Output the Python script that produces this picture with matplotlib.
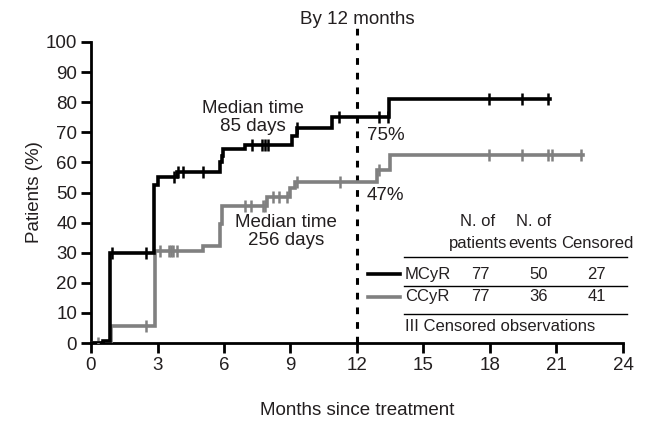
import numpy as np
import matplotlib
matplotlib.use('Agg')
import matplotlib.pyplot as plt

plt.rcParams['font.family'] = ['Liberation Sans', 'DejaVu Sans']

# step curves (months, % of patients)
mcyr_t = [0, 0.55, 0.86, 2.82, 3.0, 3.9, 5.83, 5.9, 5.96, 6.96, 9.07, 9.3, 10.87, 13.43, 20.7]
mcyr_p = [0, 0.8, 30, 52.5, 55.2, 56.8, 60, 62.2, 64.4, 65.7, 68.7, 71.4, 75.2, 81, 81]
ccyr_t = [0, 0.9, 2.9, 5.07, 5.83, 5.9, 7.94, 9.0, 9.2, 12.88, 13.48, 22.2]
ccyr_p = [0, 5.5, 30.5, 32.2, 39.5, 45.5, 48.5, 51.5, 53.5, 57.5, 62.5, 62.5]

# censored observations (months)
mcyr_cens = [0.93, 2.49, 3.75, 3.92, 4.15, 5.06, 7.26, 7.7, 7.85, 8.0, 9.3, 11.2, 12.97, 13.38, 17.95, 19.46, 20.6]
ccyr_cens = [0.3, 2.49, 3.1, 3.5, 3.6, 3.7, 3.9, 6.96, 7.2, 7.75, 7.86, 8.2, 8.5, 8.85, 9.3, 11.25, 12.97, 17.95, 19.46, 20.6, 20.8, 22.1]

groups = ['MCyR', 'CCyR']
n_patients = [77, 77]
n_events = [50, 36]
n_censored = [27, 41]


def step_at(t, times, vals):
    idx = np.searchsorted(times, t, side='right') - 1
    return np.array(vals)[idx]


txt = '#231f20'
fs = 13.5
fig = plt.figure(figsize=(6.46, 4.24), dpi=100)
ax = fig.add_axes([91/646, 1-343/424, (623-91)/646, (343-42)/424])

ax.plot(mcyr_t, mcyr_p, drawstyle='steps-post', color='black', lw=2.6, solid_joinstyle='miter', zorder=4)
ax.plot(ccyr_t, ccyr_p, drawstyle='steps-post', color='#808080', lw=2.6, solid_joinstyle='miter', zorder=3)
ax.plot(mcyr_cens, step_at(mcyr_cens, mcyr_t, mcyr_p), ls='none', marker='|', ms=8, mew=1.8, color='black', zorder=4)
ax.plot(ccyr_cens, step_at(ccyr_cens, ccyr_t, ccyr_p), ls='none', marker='|', ms=8, mew=1.8, color='#808080', zorder=3)

ax.axvline(12, ymin=0, ymax=1.06, color='black', lw=2.2, ls=(0, (2.2, 2.6)), clip_on=False)
ax.text(12, 107.5, 'By 12 months', ha='center', va='center', fontsize=fs, color=txt)

ax.set_xlim(0, 24)
ax.set_ylim(0, 100)
ax.set_xticks(np.arange(0, 25, 3))
ax.set_yticks(np.arange(0, 101, 10))
for s in ['top', 'right']:
    ax.spines[s].set_visible(False)
for s in ['left', 'bottom']:
    ax.spines[s].set_linewidth(2)
ax.tick_params(direction='out', length=7, width=2, labelsize=fs, labelcolor=txt, pad=3)
ax.set_xlabel('Months since treatment', fontsize=fs, color=txt, labelpad=20)
ax.set_ylabel('Patients (%)', fontsize=fs, color=txt, labelpad=2)

ax.text(7.3, 75, 'Median time\n85 days', ha='center', va='center', fontsize=fs, color=txt, linespacing=1.1)
ax.text(8.8, 37, 'Median time\n256 days', ha='center', va='center', fontsize=fs, color=txt, linespacing=1.1)
ax.text(12.45, 68.8, '75%', ha='left', va='center', fontsize=fs, color=txt)
ax.text(12.45, 49, '47%', ha='left', va='center', fontsize=fs, color=txt)

# table
tfs = 12
col_x = [17.55, 20.2, 22.8]
ax.text(17.45, 40.5, 'N. of', ha='center', va='center', fontsize=tfs, color=txt)
ax.text(19.95, 40.5, 'N. of', ha='center', va='center', fontsize=tfs, color=txt)
ax.text(17.45, 33.2, 'patients', ha='center', va='center', fontsize=tfs, color=txt)
ax.text(19.95, 33.2, 'events', ha='center', va='center', fontsize=tfs, color=txt)
ax.text(22.85, 33.2, 'Censored', ha='center', va='center', fontsize=tfs, color=txt, clip_on=False)
rows_y = [22.8, 15.4]
colors = ['black', '#808080']
for g, a, b, c, y, col in zip(groups, n_patients, n_events, n_censored, rows_y, colors):
    ax.plot([12.5, 13.95], [y, y], color=col, lw=2.6, clip_on=False)
    ax.text(14.15, y, g, ha='left', va='center', fontsize=tfs, color=txt)
    for xx, v in zip(col_x, [a, b, c]):
        ax.text(xx, y, str(v), ha='center', va='center', fontsize=tfs, color=txt)
for y in [28.7, 19.0, 9.7]:
    ax.plot([14.1, 24.2], [y, y], color='black', lw=1.0, clip_on=False)
ax.text(14.15, 5.4, 'III Censored observations', ha='left', va='center', fontsize=tfs, color=txt)

fig.savefig('out.png', dpi=100)
